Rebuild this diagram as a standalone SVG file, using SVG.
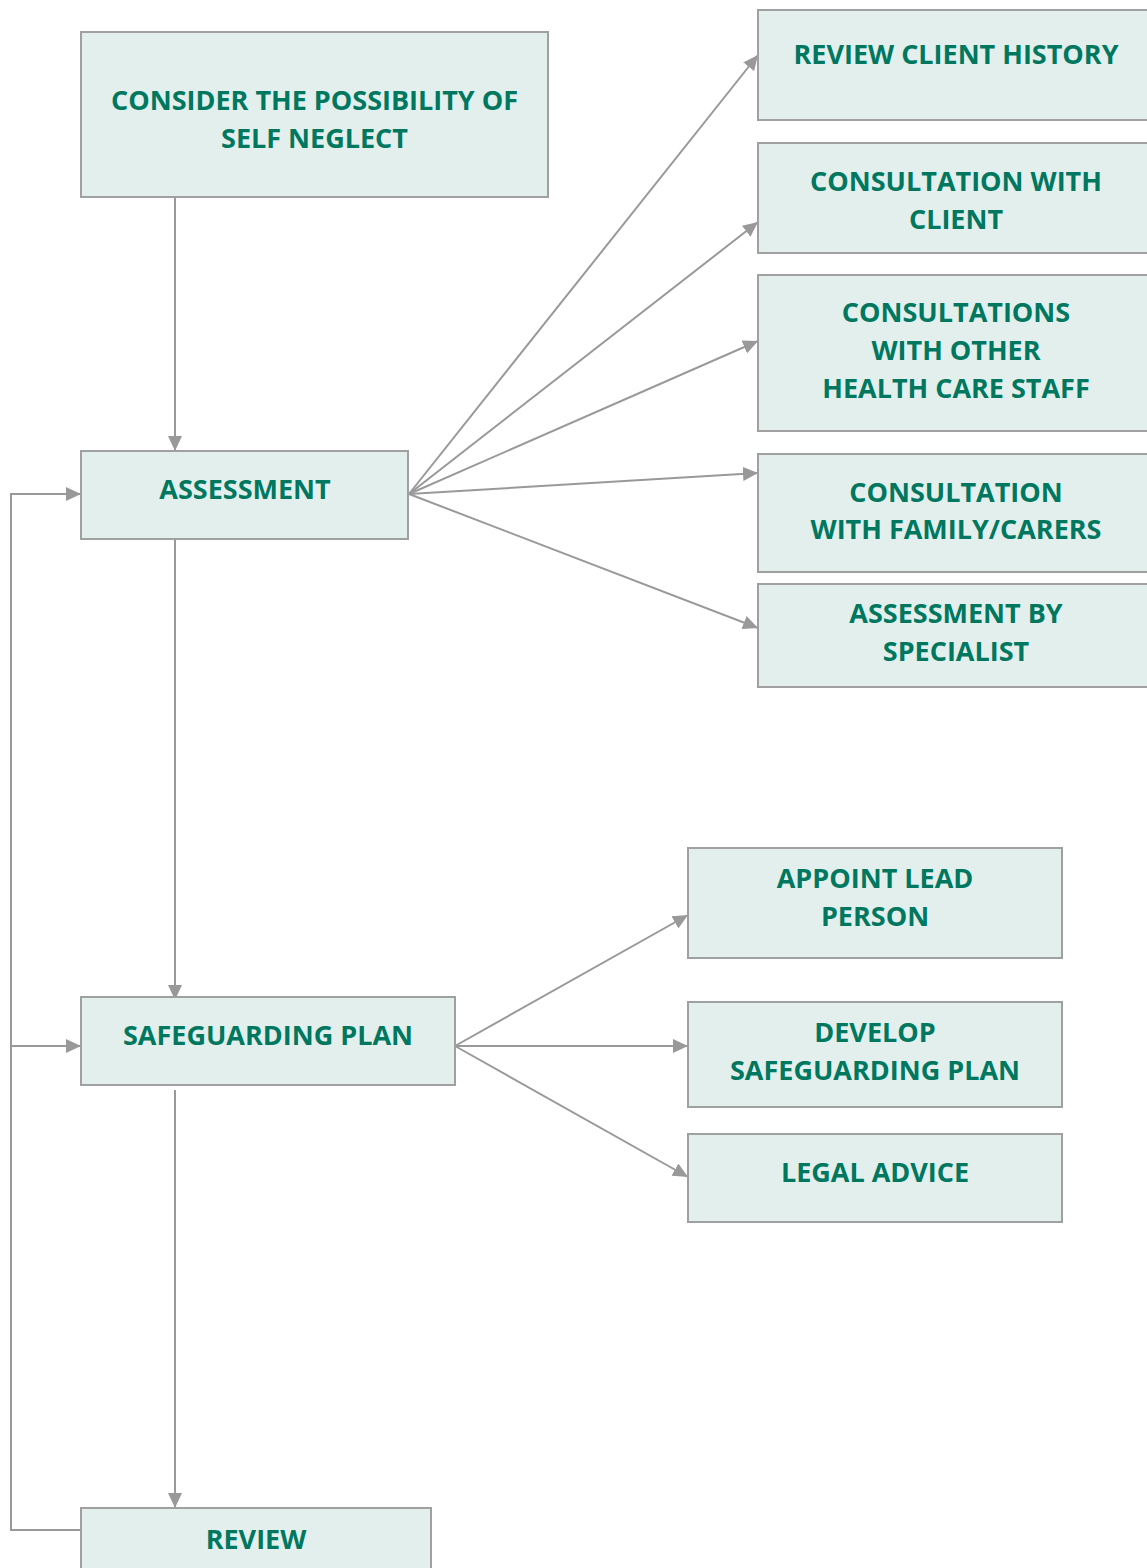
<svg xmlns="http://www.w3.org/2000/svg" width="1147" height="1568" viewBox="0 0 1147 1568">
<style>
.box{fill:#E2EFEC;stroke:#A0A0A0;stroke-width:2}
.t{font-family:"Open Sans","Noto Sans",sans-serif;font-weight:bold;font-size:27px;fill:#00775F;text-anchor:middle}
.c{fill:none;stroke:#999999;stroke-width:2}
</style>
<defs>
<marker id="ah" markerUnits="userSpaceOnUse" markerWidth="16" markerHeight="14" refX="15" refY="7" orient="auto">
<path d="M0,0 L15,7 L0,14 Z" fill="#999999"/>
</marker>
</defs>
<g id="connectors">
<line class="c" x1="175" y1="197" x2="175" y2="451" marker-end="url(#ah)"/>
<line class="c" x1="175" y1="539" x2="175" y2="1000" marker-end="url(#ah)"/>
<line class="c" x1="175" y1="1090" x2="175" y2="1508" marker-end="url(#ah)"/>
<polyline class="c" points="81,1530 11,1530 11,494 81,494" marker-end="url(#ah)"/>
<line class="c" x1="11" y1="1046" x2="81" y2="1046" marker-end="url(#ah)"/>
<line class="c" x1="409" y1="494" x2="758" y2="55" marker-end="url(#ah)"/>
<line class="c" x1="409" y1="494" x2="758" y2="222" marker-end="url(#ah)"/>
<line class="c" x1="409" y1="494" x2="758" y2="341" marker-end="url(#ah)"/>
<line class="c" x1="409" y1="494" x2="758" y2="473" marker-end="url(#ah)"/>
<line class="c" x1="409" y1="494" x2="758" y2="628" marker-end="url(#ah)"/>
<line class="c" x1="455" y1="1046" x2="688" y2="915" marker-end="url(#ah)"/>
<line class="c" x1="455" y1="1046" x2="688" y2="1046" marker-end="url(#ah)"/>
<line class="c" x1="455" y1="1046" x2="688" y2="1177" marker-end="url(#ah)"/>
</g>
<g id="consider">
<rect class="box" x="81" y="32" width="467" height="165"/>
<text class="t" x="314.5" y="110">CONSIDER THE POSSIBILITY OF</text>
<text class="t" x="314.5" y="148">SELF NEGLECT</text>
</g>
<g id="assessment">
<rect class="box" x="81" y="451" width="327" height="88"/>
<text class="t" x="245" y="499">ASSESSMENT</text>
</g>
<g id="safeguarding">
<rect class="box" x="81" y="997" width="374" height="88"/>
<text class="t" x="268" y="1045">SAFEGUARDING PLAN</text>
</g>
<g id="review">
<rect class="box" x="81" y="1508" width="350" height="70"/>
<text class="t" x="256" y="1549">REVIEW</text>
</g>
<g id="history">
<rect class="box" x="758" y="10" width="400" height="110"/>
<text class="t" x="956" y="64">REVIEW CLIENT HISTORY</text>
</g>
<g id="client">
<rect class="box" x="758" y="143" width="400" height="110"/>
<text class="t" x="956" y="191">CONSULTATION WITH</text>
<text class="t" x="956" y="229">CLIENT</text>
</g>
<g id="staff">
<rect class="box" x="758" y="275" width="400" height="156"/>
<text class="t" x="956" y="322">CONSULTATIONS</text>
<text class="t" x="956" y="360">WITH OTHER</text>
<text class="t" x="956" y="398">HEALTH CARE STAFF</text>
</g>
<g id="family">
<rect class="box" x="758" y="454" width="400" height="118"/>
<text class="t" x="956" y="502">CONSULTATION</text>
<text class="t" x="956" y="539">WITH FAMILY/CARERS</text>
</g>
<g id="specialist">
<rect class="box" x="758" y="584" width="400" height="103"/>
<text class="t" x="956" y="623">ASSESSMENT BY</text>
<text class="t" x="956" y="661">SPECIALIST</text>
</g>
<g id="lead">
<rect class="box" x="688" y="848" width="374" height="110"/>
<text class="t" x="875" y="888">APPOINT LEAD</text>
<text class="t" x="875" y="926">PERSON</text>
</g>
<g id="develop">
<rect class="box" x="688" y="1002" width="374" height="105"/>
<text class="t" x="875" y="1042">DEVELOP</text>
<text class="t" x="875" y="1080">SAFEGUARDING PLAN</text>
</g>
<g id="legal">
<rect class="box" x="688" y="1134" width="374" height="88"/>
<text class="t" x="875" y="1182">LEGAL ADVICE</text>
</g>
</svg>
